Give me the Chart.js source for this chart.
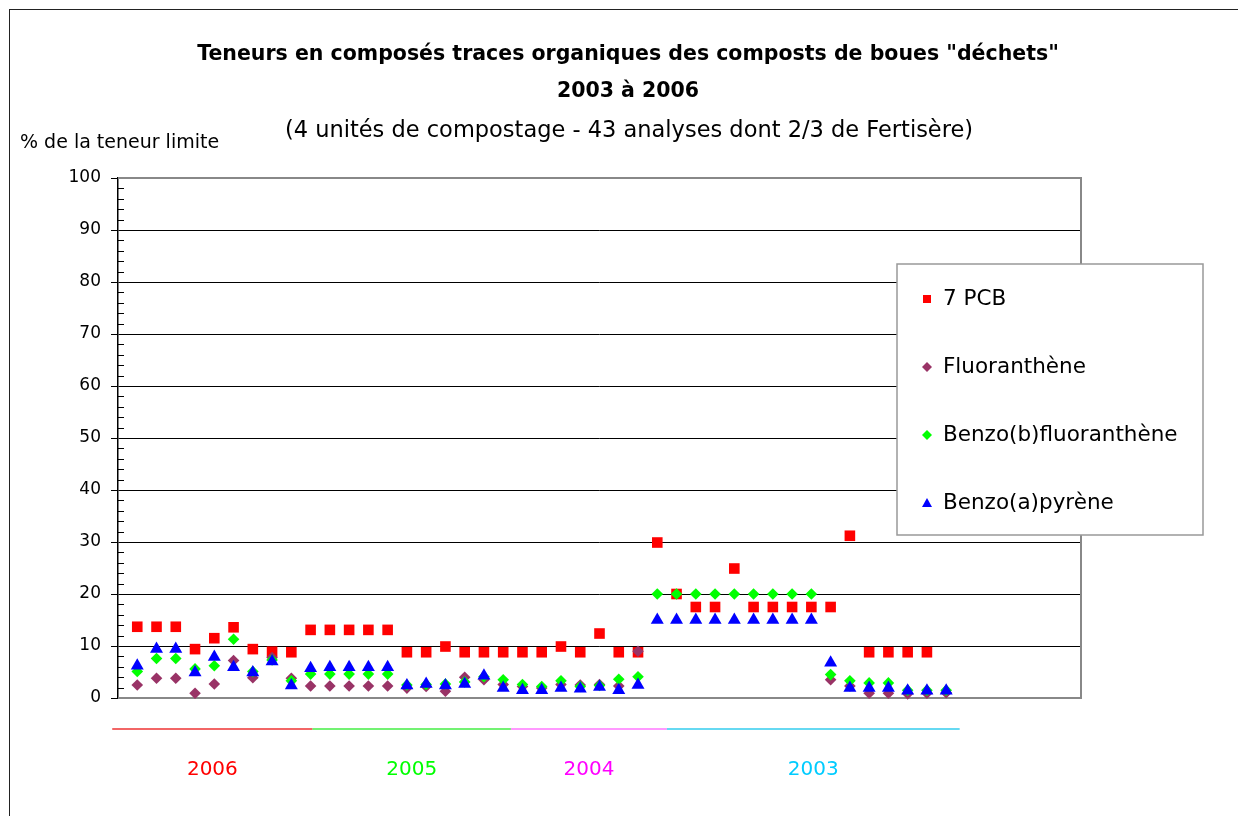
<!DOCTYPE html>
<html lang="fr">
<head>
<meta charset="utf-8">
<title>Teneurs en composés traces organiques des composts de boues</title>
<script src="https://cdn.jsdelivr.net/npm/chart.js@4/dist/chart.umd.min.js"></script>
<style>
  html, body { margin: 0; padding: 0; background: #fff; overflow: hidden; }
  #wrap { position: relative; width: 1238px; height: 816px; }
  #frame { position: absolute; left: 9px; top: 9px; width: 1300px; height: 900px; border: 1.5px solid #222; box-sizing: border-box; }
  #chart { position: absolute; left: 0; top: 0; }
</style>
</head>
<body>
<div id="wrap">
  <div id="frame"></div>
  <canvas id="chart" width="1238" height="816"></canvas>
</div>
<script>
// values in % of the limit, one per analysis (43 analyses)
const pcb = [13.7, 13.7, 13.7, 9.4, 11.5, 13.6, 9.4, 8.9, 8.8, 13.1,
             13.1, 13.1, 13.1, 13.1, 8.8, 8.8, 9.9, 8.8, 8.8, 8.8,
             8.8, 8.8, 9.9, 8.8, 12.4, 8.8, 8.8, 29.9, 20, 17.5,
             17.5, 24.9, 17.5, 17.5, 17.5, 17.5, 17.5, 31.2, 8.8, 8.8,
             8.8, 8.8, null];
const fluoranthene = [2.5, 3.8, 3.8, 0.9, 2.7, 7.2, 3.9, 7.8, 3.8, 2.3,
                      2.3, 2.3, 2.3, 2.3, 1.9, 2.2, 1.3, 4.0, 3.5, 2.6,
                      2.2, 1.9, 2.6, 2.5, 2.6, 2.3, 9.0, null, null, null,
                      null, null, null, null, null, null, 3.5, 2.3, 0.9, 0.9,
                      0.8, 0.9, 1.0];
const benzoB = [5.1, 7.6, 7.6, 5.6, 6.2, 11.3, 5.1, 7.3, 3.3, 4.6,
                4.6, 4.6, 4.6, 4.6, 2.5, 2.6, 2.7, 3.1, 4.1, 3.5,
                2.6, 2.2, 3.3, 2.2, 2.4, 3.6, 4.1, 20, 20, 20,
                20, 20, 20, 20, 20, 20, 4.5, 3.3, 2.9, 2.9,
                1.5, 1.5, 1.5];
const benzoA = [6.2, 9.4, 9.4, 4.9, 7.9, 5.9, 4.9, 7.0, 2.4, 5.7,
                5.9, 5.9, 5.9, 5.9, 2.4, 2.7, 2.4, 2.7, 4.3, 1.9,
                1.5, 1.5, 1.9, 1.8, 2.1, 1.5, 2.5, 15, 15, 15,
                15, 15, 15, 15, 15, 15, 6.8, 1.9, 1.9, 1.9,
                1.4, 1.4, 1.4];

const analyses = pcb.map((_, i) => i + 1);

// years under the axis, with the analysis range each one covers
const years = ['2006', '2005', '2004', '2003'];
const yearBounds = [-0.3, 10.1, 20.4, 28.5, 43.7];
const yearColors = ['#ff0000', '#00ff00', '#ff00ff', '#00ccff'];
const yearLineColors = ['#ee3333', '#44ee44', '#ff77ff', '#33ccee'];

const FONT = '"Comic Sans MS", "DejaVu Sans", sans-serif';

function toPoints(values) {
    return values.map((v, i) => ({ x: analyses[i], y: v }));
}

const series = [
    { label: '7 PCB', data: pcb, color: '#ff0000', style: 'rect', radius: 7.5 },
    { label: 'Fluoranthène', data: fluoranthene, color: '#993366', style: 'rectRot', radius: 5.8 },
    { label: 'Benzo(b)fluoranthène', data: benzoB, color: '#00ff00', style: 'rectRot', radius: 5.8 },
    { label: 'Benzo(a)pyrène', data: benzoA, color: '#0000ff', style: 'triangle', radius: 7.5 }
];

function drawMarker(ctx, style, x, y, r) {
    ctx.beginPath();
    if (style === 'rect') {
        ctx.rect(x - r, y - r, 2 * r, 2 * r);
    } else if (style === 'rectRot') {
        ctx.moveTo(x, y - r); ctx.lineTo(x + r, y); ctx.lineTo(x, y + r); ctx.lineTo(x - r, y);
        ctx.closePath();
    } else {
        ctx.moveTo(x, y - r); ctx.lineTo(x + r, y + r * 0.8); ctx.lineTo(x - r, y + r * 0.8);
        ctx.closePath();
    }
    ctx.fill();
}

const decorations = {
    id: 'decorations',
    beforeDatasetsDraw(chart) {
        const { ctx, chartArea: a, scales: { y } } = chart;
        ctx.save();
        // minor ticks
        ctx.strokeStyle = '#000';
        ctx.lineWidth = 1;
        for (let v = 2; v < 100; v += 2) {
            if (v % 10 === 0) continue;
            const py = Math.round(y.getPixelForValue(v)) + 0.5;
            ctx.beginPath();
            ctx.moveTo(a.left, py);
            ctx.lineTo(a.left + 6, py);
            ctx.stroke();
        }
        // plot area border
        ctx.strokeStyle = '#888';
        ctx.lineWidth = 2;
        ctx.beginPath();
        ctx.moveTo(a.left, a.top);
        ctx.lineTo(a.right, a.top);
        ctx.lineTo(a.right, a.bottom);
        ctx.lineTo(a.left, a.bottom);
        ctx.stroke();
        ctx.restore();
    },
    afterDraw(chart) {
        const { ctx, chartArea: a, scales: { x } } = chart;
        ctx.save();
        ctx.fillStyle = '#000';
        ctx.textAlign = 'center';
        ctx.textBaseline = 'middle';

        // titles
        ctx.font = 'bold 20.5px ' + FONT;
        ctx.fillText('Teneurs en composés traces organiques des composts de boues "déchets"', 628, 55);
        ctx.fillText('2003 à 2006', 628, 92);
        ctx.font = '22.5px ' + FONT;
        ctx.fillText('(4 unités de compostage - 43 analyses dont 2/3 de Fertisère)', 629, 131);

        // y axis title
        ctx.textAlign = 'left';
        ctx.font = '19px ' + FONT;
        ctx.fillText('% de la teneur limite', 20, 143);

        // legend box
        const lx = 897, ly = 264, lw = 306, lh = 271;
        ctx.fillStyle = '#fff';
        ctx.fillRect(lx, ly, lw, lh);
        ctx.strokeStyle = '#999';
        ctx.lineWidth = 1.5;
        ctx.strokeRect(lx, ly, lw, lh);
        ctx.font = '21.5px ' + FONT;
        series.forEach((s, i) => {
            const cy = ly + 35 + i * 68;
            ctx.fillStyle = s.color;
            drawMarker(ctx, s.style, lx + 30, cy, s.style === 'rect' ? 4 : 5);
            ctx.fillStyle = '#000';
            ctx.fillText(s.label, lx + 46, cy);
        });

        // years under the axis
        ctx.textAlign = 'center';
        ctx.font = '20px ' + FONT;
        years.forEach((yr, i) => {
            const x0 = x.getPixelForValue(yearBounds[i]);
            const x1 = x.getPixelForValue(yearBounds[i + 1]);
            ctx.strokeStyle = yearLineColors[i];
            ctx.lineWidth = 1.5;
            ctx.beginPath();
            ctx.moveTo(x0, a.bottom + 31);
            ctx.lineTo(x1, a.bottom + 31);
            ctx.stroke();
            ctx.fillStyle = yearColors[i];
            ctx.fillText(yr, (x0 + x1) / 2, a.bottom + 72);
        });
        ctx.restore();
    }
};

new Chart(document.getElementById('chart'), {
    type: 'scatter',
    data: {
        datasets: series.map((s, i) => ({
            label: s.label,
            data: toPoints(s.data),
            pointStyle: s.style,
            pointRadius: s.radius,
            pointBorderWidth: 0,
            backgroundColor: s.color,
            borderColor: s.color,
            order: series.length - i,
            clip: false
        }))
    },
    options: {
        responsive: false,
        animation: false,
        layout: { padding: { top: 178, right: 157, bottom: 118, left: 0 } },
        scales: {
            x: { type: 'linear', min: 0, max: 50, display: false },
            y: {
                min: 0,
                max: 100,
                afterFit: (scale) => { scale.width = 118; },
                ticks: { stepSize: 10, color: '#000', padding: 10, font: { family: FONT, size: 17 } },
                grid: {
                    color: (c) => (c.tick && c.tick.value === 0) ? 'rgba(0,0,0,0)' : '#000',
                    tickColor: '#000',
                    tickLength: 7,
                    lineWidth: 1
                },
                border: { color: '#000', width: 1.5 }
            }
        },
        plugins: {
            legend: { display: false },
            tooltip: { enabled: false }
        }
    },
    plugins: [decorations]
});
</script>
</body>
</html>
